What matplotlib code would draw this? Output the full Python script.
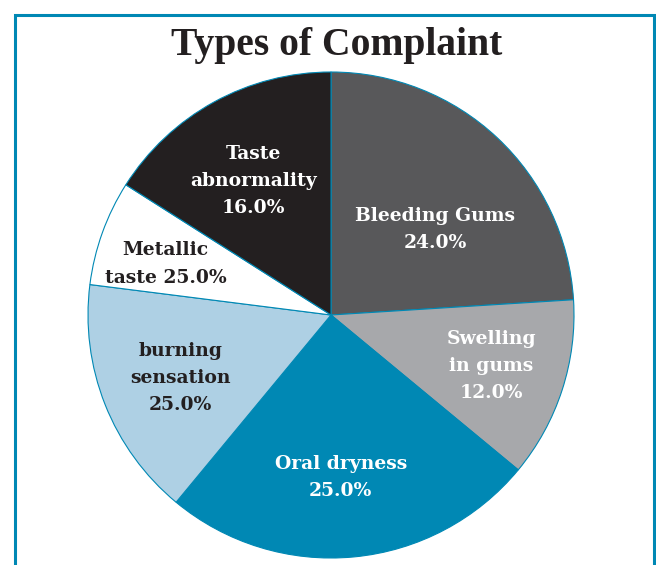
import matplotlib
matplotlib.use("Agg")
import matplotlib.pyplot as plt
from matplotlib.lines import Line2D

# slice sizes; printed labels are kept as drawn
categories = ["Bleeding Gums", "Swelling in gums", "Oral dryness",
              "burning sensation", "Metallic taste", "Taste abnormality"]
sizes = [24, 12, 25, 16, 7, 16]
label_text = ["Bleeding Gums\n24.0%", "Swelling\nin gums\n12.0%", "Oral dryness\n25.0%",
              "burning\nsensation\n25.0%", "Metallic\ntaste 25.0%", "Taste\nabnormality\n16.0%"]
colors = ["#58585a", "#a7a8ab", "#0088b4", "#aed0e4", "#ffffff", "#231f20"]
text_colors = ["white", "white", "white", "#231f20", "#231f20", "white"]
# label anchor in pie-radius units
label_pos = [(0.43, 0.35), (0.66, -0.21), (0.04, -0.67),
             (-0.62, -0.26), (-0.68, 0.21), (-0.32, 0.55)]

W, H = 656, 565
cx, cy, R = 331, 315, 243

fig = plt.figure(figsize=(W / 100, H / 100), dpi=100)
fig.patch.set_facecolor("white")

ax = fig.add_axes([(cx - R) / W, (H - cy - R) / H, 2 * R / W, 2 * R / H])
ax.pie(sizes, colors=colors, startangle=90, counterclock=False, radius=1,
       wedgeprops=dict(edgecolor="#0088b4", linewidth=0.8))
ax.set_xlim(-1, 1)
ax.set_ylim(-1, 1)
ax.set_aspect("equal")
ax.axis("off")

for txt, (x, y), c in zip(label_text, label_pos, text_colors):
    ax.text(x, y, txt, ha="center", va="center", color=c, fontsize=13.5,
            fontweight="bold", linespacing=1.65, family=["DejaVu Serif"])

fig.text(337 / W, 1 - 46 / H, "Types of Complaint", ha="center", va="center",
         fontsize=28.5, fontweight="bold", color="#231f20",
         family=["Liberation Serif", "DejaVu Serif"])

# frame around the chart (open at the bottom)
bx0, bx1, by = 15 / W, 654 / W, 1 - 15 / H
fig.add_artist(Line2D([bx0, bx0, bx1, bx1], [0, by, by, 0], transform=fig.transFigure,
                      color="#0088b4", linewidth=2.2, solid_joinstyle="miter"))

fig.savefig("out.png", dpi=100)
